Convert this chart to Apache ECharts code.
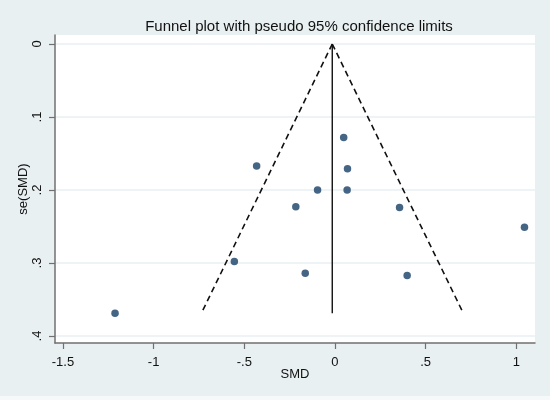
<!DOCTYPE html>
<html lang="en">
<head>
    <meta charset="UTF-8">
    <title>Funnel plot</title>
    <script src="https://cdn.jsdelivr.net/npm/echarts@6/dist/echarts.min.js"></script>
    <style>
        html, body { margin: 0; padding: 0; background: #f6f9fa; }
        #main { width: 550px; height: 396px; background: #e9f0f2; }
    </style>
</head>
<body>
<div id="main"></div>
<script>
    // study effects (SMD) and their standard errors
    var smd = [0.048, -0.432, 0.069, -0.096, 0.067, -0.216, 0.356, 1.045, -0.555, -0.164, 0.398, -1.213];
    var se  = [0.128, 0.167, 0.171, 0.200, 0.200, 0.223, 0.224, 0.251, 0.298, 0.314, 0.317, 0.369];

    // pooled estimate line and pseudo 95% limits (end points)
    var pooledLine = [[-0.015, 0], [-0.015, 0.369]];
    var lowerLimit = [[-0.015, 0], [-0.737, 0.369]];
    var upperLimit = [[-0.015, 0], [0.708, 0.369]];

    var xTicks = [-1.5, -1, -0.5, 0, 0.5, 1];
    var xTickLabels = ['-1.5', '-1', '-.5', '0', '.5', '1'];
    var yTicks = [0, 0.1, 0.2, 0.3, 0.4];
    var yTickLabels = ['0', '.1', '.2', '.3', '.4'];

    var points = [];
    for (var i = 0; i < smd.length; i++) {
        points.push([smd[i], se[i]]);
    }

    function tickText(ticks, labels) {
        return function (v) {
            for (var k = 0; k < ticks.length; k++) {
                if (Math.abs(ticks[k] - v) < 1e-6) return labels[k];
            }
            return '';
        };
    }

    var font = 'Liberation Sans, Arial, sans-serif';
    var axisGray = '#707070';

    var myChart = echarts.init(document.getElementById('main'));
    var option = {
        backgroundColor: '#e9f0f2',
        animation: false,
        title: {
            text: 'Funnel plot with pseudo 95% confidence limits',
            left: 294, top: 14, textAlign: 'center',
            textStyle: { fontFamily: font, fontSize: 15, fontWeight: 'normal', color: '#111' }
        },
        grid: { left: 55, right: 15, top: 35, bottom: 53, show: true, backgroundColor: '#fff', borderWidth: 0 },
        xAxis: {
            type: 'value',
            min: -1.544, max: 1.103,
            name: 'SMD', nameLocation: 'middle', nameGap: 25, nameMoveOverlap: false,
            nameTextStyle: { fontFamily: font, fontSize: 13, color: '#111' },
            axisLine: { onZero: false, lineStyle: { color: axisGray, width: 1.5 } },
            axisTick: { show: true, length: 6, customValues: xTicks, lineStyle: { color: axisGray, width: 1.2 } },
            axisLabel: { customValues: xTicks, formatter: tickText(xTicks, xTickLabels), margin: 13,
                fontFamily: font, fontSize: 13, color: '#111' },
            splitLine: { show: false }
        },
        yAxis: {
            type: 'value',
            inverse: true,
            min: -0.0123, max: 0.4096,
            name: 'se(SMD)', nameLocation: 'middle', nameGap: 25, nameRotate: 90, nameMoveOverlap: false,
            nameTextStyle: { fontFamily: font, fontSize: 13, color: '#111' },
            axisLine: { onZero: false, lineStyle: { color: axisGray, width: 1.5 } },
            axisTick: { show: true, length: 6, customValues: yTicks, lineStyle: { color: axisGray, width: 1.2 } },
            axisLabel: { customValues: yTicks, formatter: tickText(yTicks, yTickLabels), rotate: 90, margin: 11,
                fontFamily: font, fontSize: 13, color: '#111' },
            splitLine: { show: true, lineStyle: { color: '#e9f0f2', width: 1.5 } }
        },
        series: [
            {
                type: 'line', data: lowerLimit, symbol: 'none', silent: true,
                lineStyle: { color: '#111', width: 1.6, type: [6, 4] }
            },
            {
                type: 'line', data: upperLimit, symbol: 'none', silent: true,
                lineStyle: { color: '#111', width: 1.6, type: [6, 4] }
            },
            {
                type: 'line', data: pooledLine, symbol: 'none', silent: true,
                lineStyle: { color: '#111', width: 1.4 }
            },
            {
                type: 'scatter', data: points, symbol: 'circle', symbolSize: 7.5,
                itemStyle: { color: '#173f66' }
            }
        ]
    };
    myChart.setOption(option);
</script>
</body>
</html>
